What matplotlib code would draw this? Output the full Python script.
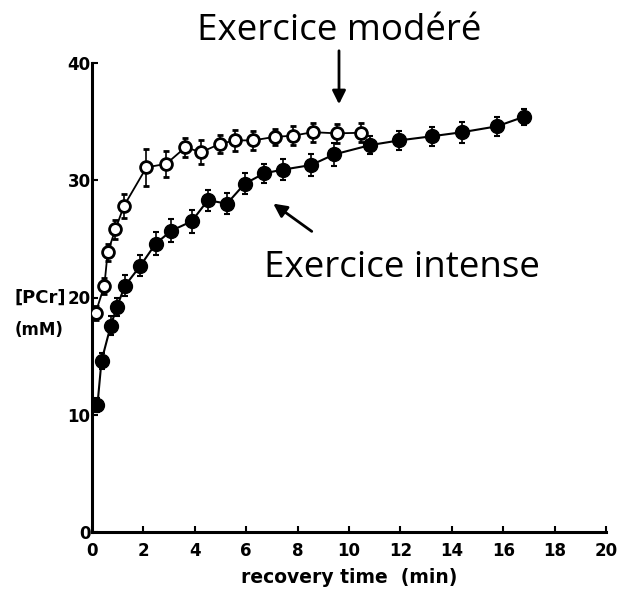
import matplotlib
matplotlib.use("Agg")
import matplotlib.pyplot as plt

# moderate exercise (open circles)
t_moderate = [0.14, 0.48, 0.61, 0.91, 1.24, 2.12, 2.89, 3.63, 4.25, 4.98, 5.56,
              6.27, 7.11, 7.82, 8.59, 9.53, 10.47]
pcr_moderate = [18.7, 21.0, 23.85, 25.8, 27.8, 31.1, 31.4, 32.8, 32.4, 33.1, 33.4,
                33.4, 33.7, 33.8, 34.1, 34.0, 34.05]
err_moderate = [0.6, 0.7, 0.7, 0.8, 1.0, 1.6, 1.1, 0.8, 1.0, 0.8, 0.9,
                0.8, 0.7, 0.8, 0.8, 0.8, 0.8]

# intense exercise (filled circles)
t_intense = [0.21, 0.37, 0.73, 0.97, 1.28, 1.88, 2.48, 3.09, 3.88, 4.51, 5.25,
             5.94, 6.71, 7.42, 8.53, 9.42, 10.83, 11.96, 13.22, 14.41, 15.76, 16.79]
pcr_intense = [10.8, 14.6, 17.6, 19.2, 21.0, 22.7, 24.6, 25.7, 26.5, 28.3, 28.0,
               29.7, 30.6, 30.9, 31.3, 32.2, 33.0, 33.4, 33.75, 34.1, 34.6, 35.4]
err_intense = [0.6, 0.7, 0.8, 0.8, 0.9, 0.9, 1.0, 1.0, 1.0, 0.9, 0.9,
               0.9, 0.8, 0.9, 0.9, 1.0, 0.8, 0.8, 0.8, 0.9, 0.8, 0.7]

x_ticks = [0, 2, 4, 6, 8, 10, 12, 14, 16, 18, 20]
y_ticks = [0, 10, 20, 30, 40]

fig = plt.figure(figsize=(6.18, 5.96), dpi=100)
ax = fig.add_axes([92/618, 64/596, 514/618, 469/596])

ax.errorbar(t_moderate, pcr_moderate, yerr=err_moderate, fmt='-o', color='black',
            mfc='white', mec='black', mew=2.0, ms=8.5, lw=1.3, elinewidth=1.2,
            capsize=2.5, capthick=1.5, zorder=3)
ax.errorbar(t_intense, pcr_intense, yerr=err_intense, fmt='-o', color='black',
            mfc='black', mec='black', ms=10, lw=1.5, elinewidth=1.2,
            capsize=2.5, capthick=1.5, zorder=4)

ax.set_xlim(0, 20)
ax.set_ylim(0, 40)
ax.set_xticks(x_ticks)
ax.set_yticks(y_ticks)
ax.spines['top'].set_visible(False)
ax.spines['right'].set_visible(False)
ax.spines['left'].set_linewidth(2.2)
ax.spines['bottom'].set_linewidth(2.2)
ax.tick_params(direction='in', length=4, width=1.5, labelsize=12)
ax.tick_params(axis='x', pad=7)
ax.tick_params(axis='y', pad=1)
for lab in ax.get_xticklabels() + ax.get_yticklabels():
    lab.set_fontweight('bold')

ax.set_xlabel("recovery time  (min)", fontsize=13.5, fontweight='bold', labelpad=6)
fig.text(15/618, 1 - 298/596, "[PCr]", fontsize=13, fontweight='bold', va='center', ha='left')
fig.text(15/618, 1 - 330/596, "(mM)", fontsize=12, fontweight='bold', va='center', ha='left')

# annotations
fig.text(339/618, 1 - 31/596, "Exercice modéré", fontsize=26.5, family='Open Sans',
         ha='center', va='center')
fig.text(402/618, 1 - 268/596, "Exercice intense", fontsize=26.5, family='Open Sans',
         ha='center', va='center')
ax.annotate("", xy=(339/618, 1 - 107/596), xytext=(339/618, 1 - 48/596),
            xycoords='figure fraction', textcoords='figure fraction',
            arrowprops=dict(arrowstyle='-|>', color='black', lw=2, mutation_scale=20),
            annotation_clip=False)
ax.annotate("", xy=(271/618, 1 - 202/596), xytext=(314/618, 1 - 233/596),
            xycoords='figure fraction', textcoords='figure fraction',
            arrowprops=dict(arrowstyle='-|>', color='black', lw=2, mutation_scale=20),
            annotation_clip=False)

fig.savefig("out.png", dpi=100)
